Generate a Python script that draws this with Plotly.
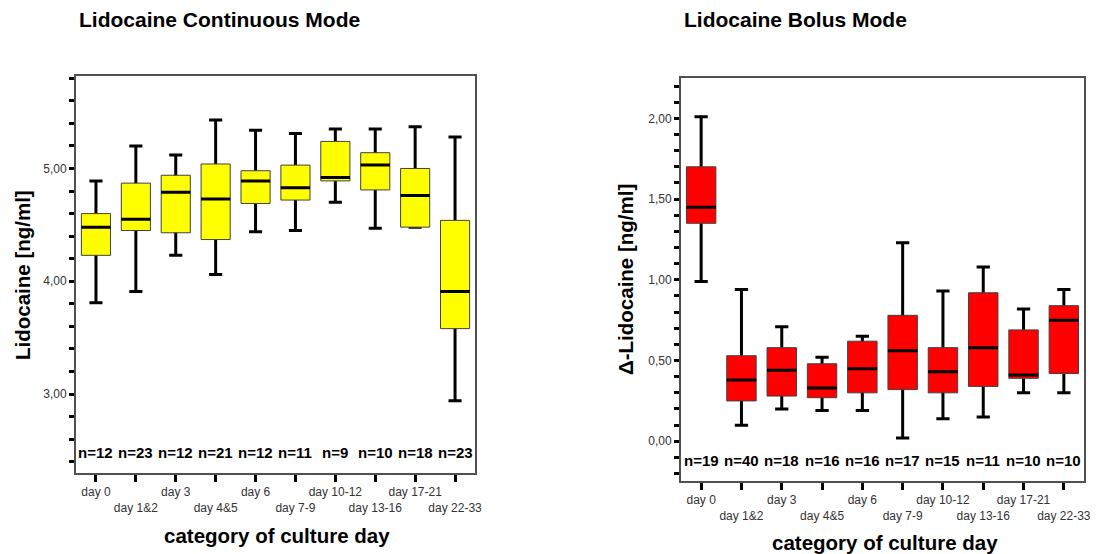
import plotly.graph_objects as go

categories = ["day 0", "day 1&2", "day 3", "day 4&5", "day 6", "day 7-9",
              "day 10-12", "day 13-16", "day 17-21", "day 22-33"]

# continuous mode (ng/ml)
cont_lower = [3.81, 3.91, 4.23, 4.06, 4.44, 4.45, 4.70, 4.47, 4.48, 2.94]
cont_q1 = [4.23, 4.45, 4.43, 4.37, 4.69, 4.72, 4.89, 4.81, 4.48, 3.58]
cont_median = [4.48, 4.55, 4.79, 4.73, 4.89, 4.83, 4.92, 5.03, 4.76, 3.91]
cont_q3 = [4.60, 4.87, 4.94, 5.04, 4.98, 5.03, 5.24, 5.14, 5.00, 4.54]
cont_upper = [4.89, 5.20, 5.12, 5.43, 5.34, 5.31, 5.35, 5.35, 5.37, 5.28]
cont_n = [12, 23, 12, 21, 12, 11, 9, 10, 18, 23]

# bolus mode (delta ng/ml)
bolus_lower = [0.99, 0.10, 0.20, 0.19, 0.19, 0.02, 0.14, 0.15, 0.30, 0.30]
bolus_q1 = [1.35, 0.25, 0.28, 0.27, 0.30, 0.32, 0.30, 0.34, 0.39, 0.42]
bolus_median = [1.45, 0.38, 0.44, 0.33, 0.45, 0.56, 0.43, 0.58, 0.41, 0.75]
bolus_q3 = [1.70, 0.53, 0.58, 0.48, 0.62, 0.78, 0.58, 0.92, 0.69, 0.84]
bolus_upper = [2.01, 0.94, 0.71, 0.52, 0.65, 1.23, 0.93, 1.08, 0.82, 0.94]
bolus_n = [19, 40, 18, 16, 16, 17, 15, 11, 10, 10]

FONT = "Arial, Liberation Sans, sans-serif"
# page body has an 8px margin, so the figure is a bit smaller and shifted
W, H = 1090, 546
OFF = 8
pos = list(range(len(categories)))


def px(x):
    return (x - OFF) / W


def py(y):
    return 1 - (y - OFF) / H


def add_boxes(fig, xa, ya, lower, q1, med, q3, upper, color):
    common = dict(x=pos, xaxis=xa, yaxis=ya, width=0.73, boxpoints=False,
                  showlegend=False, hoverinfo="skip")
    # whiskers
    fig.add_trace(go.Box(q1=med, median=med, q3=med, lowerfence=lower,
                         upperfence=upper, line=dict(color="black", width=3),
                         fillcolor="rgba(0,0,0,0)", whiskerwidth=0.45, **common))
    # boxes
    fig.add_trace(go.Box(q1=q1, median=med, q3=q3, lowerfence=q1, upperfence=q3,
                         line=dict(color="#404040", width=1), fillcolor=color,
                         whiskerwidth=0, **common))
    # median lines
    fig.add_trace(go.Box(q1=med, median=med, q3=med, lowerfence=med, upperfence=med,
                         line=dict(color="black", width=3),
                         fillcolor="rgba(0,0,0,0)", whiskerwidth=0, **common))


fig = go.Figure()
add_boxes(fig, "x", "y", cont_lower, cont_q1, cont_median, cont_q3, cont_upper, "#FFFF00")
add_boxes(fig, "x2", "y2", bolus_lower, bolus_q1, bolus_median, bolus_q3, bolus_upper, "#FF0000")

# staggered tick labels
stagger = [c if i % 2 == 0 else "<br>" + c for i, c in enumerate(categories)]

xcommon = dict(range=[-0.5, 9.5], tickvals=pos, ticktext=stagger, ticks="outside",
               ticklen=7, tickwidth=3, tickcolor="black", showline=True, mirror=True,
               linecolor="#505050", linewidth=2, showgrid=False, zeroline=False,
               tickangle=0, tickfont=dict(size=12, color="#333333", family=FONT),
               automargin=False)

cont_ticks = [round(2.4 + 0.2 * i, 1) for i in range(18)]
bolus_ticks = [round(-0.2 + 0.1 * i, 1) for i in range(25)]


def ylab(v, step):
    return f"{v:.2f}".replace(".", ",") if abs(v / step - round(v / step)) < 1e-6 else ""


ycommon = dict(ticks="outside", ticklen=5, tickwidth=3, tickcolor="black",
               showline=True, mirror=True, linecolor="#505050", linewidth=2,
               showgrid=False, zeroline=False, automargin=False,
               tickfont=dict(size=12, color="#333333", family=FONT))

fig.update_layout(
    width=W, height=H, margin=dict(l=0, r=0, t=0, b=0),
    paper_bgcolor="white", plot_bgcolor="white", boxmode="overlay",
    font=dict(family=FONT, color="black"),
    xaxis=dict(domain=[px(76), px(475)], anchor="y", **xcommon),
    yaxis=dict(domain=[py(473), py(76)], anchor="x", range=[2.3, 5.82],
               tickvals=cont_ticks, ticktext=[ylab(v, 1.0) for v in cont_ticks], **ycommon),
    xaxis2=dict(domain=[px(681), px(1084)], anchor="y2", **xcommon),
    yaxis2=dict(domain=[py(481), py(78)], anchor="x2", range=[-0.246, 2.25],
                tickvals=bolus_ticks, ticktext=[ylab(v, 0.5) for v in bolus_ticks], **ycommon),
)

ann = []
for i, n in enumerate(cont_n):
    ann.append(dict(x=i, y=2.48, xref="x", yref="y", text=f"<b>n={n}</b>",
                    showarrow=False, font=dict(size=15)))
for i, n in enumerate(bolus_n):
    ann.append(dict(x=i, y=-0.116, xref="x2", yref="y2", text=f"<b>n={n}</b>",
                    showarrow=False, font=dict(size=15)))

labels = [
    dict(x=px(77), y=py(19), text="<b>Lidocaine Continuous Mode</b>", xanchor="left",
         font=dict(size=21)),
    dict(x=px(682), y=py(19), text="<b>Lidocaine Bolus Mode</b>", xanchor="left",
         font=dict(size=21)),
    dict(x=px(22), y=py(275), text="<b>Lidocaine [ng/ml]</b>", textangle=-90,
         xanchor="center", font=dict(size=20.5)),
    dict(x=px(625), y=py(280), text="<b>Δ-Lidocaine [ng/ml]</b>", textangle=-90,
         xanchor="center", font=dict(size=20.5)),
    dict(x=px(277), y=py(535), text="<b>category of culture day</b>", xanchor="center",
         font=dict(size=20.5)),
    dict(x=px(885), y=py(542), text="<b>category of culture day</b>", xanchor="center",
         font=dict(size=20.5)),
]
for a in labels:
    a.update(xref="paper", yref="paper", showarrow=False, yanchor="middle")
fig.update_layout(annotations=ann + labels)

fig.write_html("out.html")
